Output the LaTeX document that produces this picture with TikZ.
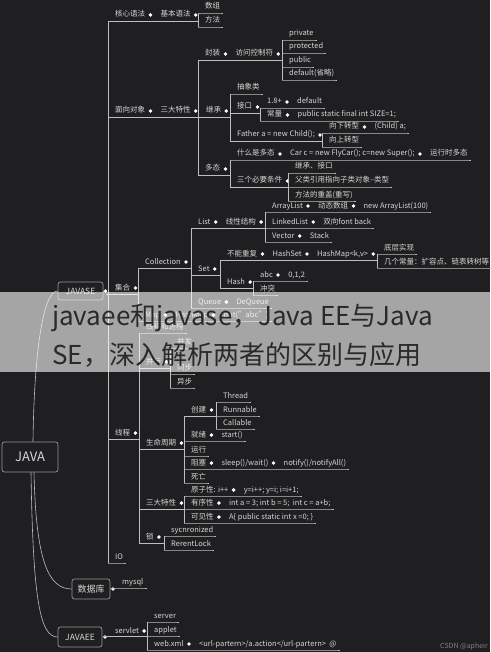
\documentclass[tikz,border=0pt]{standalone}
\usepackage{fontspec}
\setmainfont{Noto Sans CJK SC}
\usetikzlibrary{calc}
\definecolor{bg}{RGB}{31,31,33}
\definecolor{lnc}{RGB}{190,190,190}
\definecolor{txc}{RGB}{214,214,214}
\definecolor{boxc}{RGB}{150,150,150}
\definecolor{ttl}{RGB}{42,42,42}
\newcommand\mtp[4]{\node[t] (#1) at (#2+7,#3-6) {#4};}
\newcommand\mnx[3]{\node[dot] (#1d) at ([xshift=5pt]#1.east) {};\node[t] (#2) at ([xshift=10pt]#1d.center) {#3};}
\newcommand\med[1]{\node[dot] (#1d) at ([xshift=5pt]#1.east) {};}
\newcommand\uln[3]{\coordinate (tmpa) at (#1,#2);\draw[ln] (tmpa) -- (tmpa -| #3.east) -- ++(3,0);}
\begin{document}
\begin{tikzpicture}[x=1pt,y=-1pt,
  t/.style={anchor=west,inner sep=0pt,text height=5.6pt,text depth=1.6pt,font=\fontsize{7.5}{9}\selectfont,text=txc},
  dot/.style={circle,fill=white,inner sep=0pt,minimum size=3.8pt},
  ln/.style={draw=lnc,line width=0.6pt},
  box/.style={draw=boxc,fill=bg,rounded corners=2.5pt,line width=0.7pt,text=txc,inner sep=0pt}]
\fill[bg] (0,0) rectangle (490,652);
\useasboundingbox (0,0) rectangle (490,652);
% root boxes
\node[box,minimum width=56pt,minimum height=30pt,font=\fontsize{13}{15}\selectfont] (java) at (30,457) {JAVA};
\node[box,minimum width=45pt,minimum height=18pt,font=\fontsize{8.5}{10}\selectfont] (se) at (80.5,291) {JAVASE};
\node[box,minimum width=38pt,minimum height=20pt,font=\fontsize{9}{10}\selectfont] (db) at (91,589) {数据库};
\node[box,minimum width=44pt,minimum height=20pt,font=\fontsize{8.5}{10}\selectfont] (ee) at (80,637) {JAVAEE};
\draw[ln] ([xshift=3pt]java.north) .. controls (34,360) and (42,291) .. (se.west);
\draw[ln] ([xshift=4pt]java.south) .. controls (36,560) and (48,589) .. (db.west);
\draw[ln] ([xshift=1pt]java.south) .. controls (33,600) and (40,637) .. (ee.west);
% trunk
\draw[ln] (108,21) -- (108,563);
\node[dot] (sed) at (105.5,291) {};
% 核心语法
\mtp{hx}{108}{21}{核心语法}\mnx{hx}{jb}{基本语法}\med{jb}
\draw[ln] (108,21) -- (198,21);
\draw[ln] (198,13) -- (198,27);
\mtp{sz}{198}{13}{数组}\uln{198}{13}{sz}
\mtp{ff}{198}{27}{方法}\uln{198}{27}{ff}
% 面向对象
\mtp{mx}{108}{117}{面向对象}\mnx{mx}{sd}{三大特性}\mnx{sd}{jc}{继承}\med{jc}
\draw[ln] (108,117) -- (230,117);
\draw[ln] (198,60) -- (198,175);
\mtp{fz}{198}{60}{封装}\mnx{fz}{fk}{访问控制符}\med{fk}
\draw[ln] (198,60) -- (282,60);
\draw[ln] (282,40) -- (282,80);
\mtp{pr}{282}{40}{private}\uln{282}{40}{pr}
\mtp{pt}{282}{53}{protected}\uln{282}{53}{pt}
\mtp{pu}{282}{67}{public}\uln{282}{67}{pu}
\mtp{df}{282}{80}{default(省略)}\uln{282}{80}{df}
\draw[ln] (230,94) -- (230,141);
\mtp{cx}{230}{94}{抽象类}\uln{230}{94}{cx}
\mtp{jk}{230}{113}{接口}\med{jk}
\draw[ln] (230,113) -- (260,113);
\draw[ln] (260,108) -- (260,121);
\mtp{vb}{260}{108}{1.8+}\mnx{vb}{dfm}{default}\uln{260}{108}{dfm}
\mtp{cl}{260}{121}{常量}\mnx{cl}{psf}{public static final int SIZE=1;}\uln{260}{121}{psf}
\mtp{fa}{230}{141}{Father a = new Child();}\med{fa}
\draw[ln] (230,141) -- (322,141);
\draw[ln] (322,133) -- (322,147);
\mtp{xx}{322}{133}{向下转型}\mnx{xx}{ch}{(Child) a;}\uln{322}{133}{ch}
\mtp{xs}{322}{147}{向上转型}\uln{322}{147}{xs}
\mtp{dt}{198}{175}{多态}\med{dt}
\draw[ln] (198,175) -- (230,175);
\draw[ln] (230,160) -- (230,187);
\mtp{sm}{230}{160}{什么是多态}\mnx{sm}{car}{Car c = new FlyCar(); c=new Super();}\mnx{car}{yx}{运行时多态}\uln{230}{160}{yx}
\mtp{sg}{230}{187}{三个必要条件}\med{sg}
\draw[ln] (230,187) -- (288,187);
\draw[ln] (288,173) -- (288,201);
\mtp{ji}{288}{173}{继承、接口}\uln{288}{173}{ji}
\mtp{fl}{288}{187}{父类引用指向子类对象--类型}\uln{288}{187}{fl}
\mtp{cf}{288}{201}{方法的重盖(重写)}\uln{288}{201}{cf}
% 集合
\mtp{jh}{108}{294}{集合}\med{jh}
\draw[ln] (se.east |- sed) -- (sed);
\draw[ln] (106,294) -- (138,294);
\draw[ln] (138,268) -- (138,321);
\mtp{co}{138}{268}{Collection}\med{co}
\draw[ln] (138,268) -- (191,268);
\draw[ln] (191,228) -- (191,308);
\mtp{li}{191}{228}{List}\mnx{li}{xj}{线性结构}\med{xj}
\draw[ln] (191,228) -- (265,228);
\draw[ln] (265,212) -- (265,242);
\mtp{al}{265}{212}{ArrayList}\mnx{al}{dz}{动态数组}\mnx{dz}{na}{new ArrayList(100)}\uln{265}{212}{na}
\mtp{ll}{265}{228}{LinkedList}\mnx{ll}{sx}{双向font back}\uln{265}{228}{sx}
\mtp{ve}{265}{242}{Vector}\mnx{ve}{st}{Stack}\uln{265}{242}{st}
\mtp{sset}{191}{275}{Set}\med{sset}
\draw[ln] (191,275) -- (220,275);
\draw[ln] (220,260) -- (220,288);
\mtp{bn}{220}{260}{不能重复}\mnx{bn}{hs}{HashSet}\mnx{hs}{hm}{HashMap<k,v>}\med{hm}
\draw[ln] (220,260) -- (377,260);
\draw[ln] (377,254) -- (377,268);
\mtp{dc}{377}{254}{底层实现}\uln{377}{254}{dc}
\mtp{jg}{377}{268}{几个常量：扩容点、链表转树等}\uln{377}{268}{jg}
\mtp{ha}{220}{288}{Hash}\med{ha}
\draw[ln] (220,288) -- (253,288);
\draw[ln] (253,281) -- (253,295);
\mtp{ab}{253}{281}{abc}\mnx{ab}{zo}{0,1,2}\uln{253}{281}{zo}
\mtp{ct}{253}{295}{冲突}\uln{253}{295}{ct}
\mtp{qu}{191}{308}{Queue}\mnx{qu}{dq}{DeQueue}\uln{191}{308}{dq}
\mtp{mp}{138}{321}{Map}\mnx{mp}{hmb}{HashMap}\mnx{hmb}{pa}{put("abc")}\uln{138}{321}{pa}
% 线程
\mtp{xc}{108}{439}{线程}\med{xc}
\draw[ln] (108,439) -- (139,439);
\draw[ln] (139,333) -- (139,543);
\mtp{xjc}{139}{333}{线程和进程}\uln{139}{333}{xjc}
\mtp{bx}{139}{368}{并行}\med{bx}
\draw[ln] (139,368) -- (170,368);
\draw[ln] (170,348) -- (170,388);
\mtp{bf}{170}{348}{并发}\uln{170}{348}{bf}
\mtp{tb}{170}{374}{同步}\uln{170}{374}{tb}
\mtp{yb}{170}{388}{异步}\uln{170}{388}{yb}
\mtp{smz}{139}{449}{生命周期}\med{smz}
\draw[ln] (139,449) -- (184,449);
\draw[ln] (184,416) -- (184,483);
\mtp{cj}{184}{416}{创建}\med{cj}
\draw[ln] (184,416) -- (216,416);
\draw[ln] (216,402) -- (216,429);
\mtp{th}{216}{402}{Thread}\uln{216}{402}{th}
\mtp{ru}{216}{416}{Runnable}\uln{216}{416}{ru}
\mtp{ca}{216}{429}{Callable}\uln{216}{429}{ca}
\mtp{jx}{184}{441}{就绪}\mnx{jx}{sta}{start()}\uln{184}{441}{sta}
\mtp{yxx}{184}{456}{运行}\uln{184}{456}{yxx}
\mtp{zs}{184}{469}{阻塞}\mnx{zs}{sl}{sleep()/wait()}\mnx{sl}{no}{notify()/notifyAll()}\uln{184}{469}{no}
\mtp{sw}{184}{483}{死亡}\uln{184}{483}{sw}
\mtp{sdt}{139}{509}{三大特性}\med{sdt}
\draw[ln] (139,509) -- (184,509);
\draw[ln] (184,496) -- (184,523);
\mtp{yz}{184}{496}{原子性: i++}\mnx{yz}{yi}{y=i++; y=i; i=i+1;}\uln{184}{496}{yi}
\mtp{yo}{184}{509}{有序性}\mnx{yo}{ia}{int a = 3; int b = 5;\ \ int c = a+b;}\uln{184}{509}{ia}
\mtp{kj}{184}{523}{可见性}\mnx{kj}{ap}{A\{ public static int x =0; \}}\uln{184}{523}{ap}
\mtp{so}{139}{543}{锁}\med{so}
\draw[ln] (139,543) -- (164,543);
\draw[ln] (164,536) -- (164,550);
\mtp{sy}{164}{536}{sycnronized}\uln{164}{536}{sy}
\mtp{rl}{164}{550}{RerentLock}\uln{164}{550}{rl}
\mtp{io}{108}{563}{IO}\uln{108}{563}{io}
% 数据库
\node[dot] (dbd) at (113,589) {};
\node[t] (my) at (122,582) {mysql};
\uln{110}{588}{my}
% JAVAEE
\node[dot] (eed) at (105,637) {};
\node[t] (sv) at (115,631) {servlet};\med{sv}
\draw[ln] (103,636) -- (147,636);
\draw[ln] (147,622) -- (147,650);
\mtp{sr}{147}{622}{server}\uln{147}{622}{sr}
\mtp{apl}{147}{636}{applet}\uln{147}{636}{apl}
\mtp{wx}{147}{650}{web.xml}\mnx{wx}{url}{<url-partern>/a.action</url-partern>\ \ @}\uln{147}{650}{url}
% watermark
\node[anchor=east,inner sep=0pt,text=gray,font=\fontsize{7}{8}\selectfont] (wm) at (488,647) {CSDN @apheir};
% banner
\fill[white,opacity=0.6] (0,292) rectangle (490,372);
\node[anchor=west,inner sep=0pt,text=ttl,font=\fontsize{26}{30}\selectfont] (t1) at (52,318) {javaee和javase，Java EE与Java};
\node[anchor=west,inner sep=0pt,text=ttl,font=\fontsize{26}{30}\selectfont] (t2) at (52,355) {SE，深入解析两者的区别与应用};
\end{tikzpicture}
\end{document}
